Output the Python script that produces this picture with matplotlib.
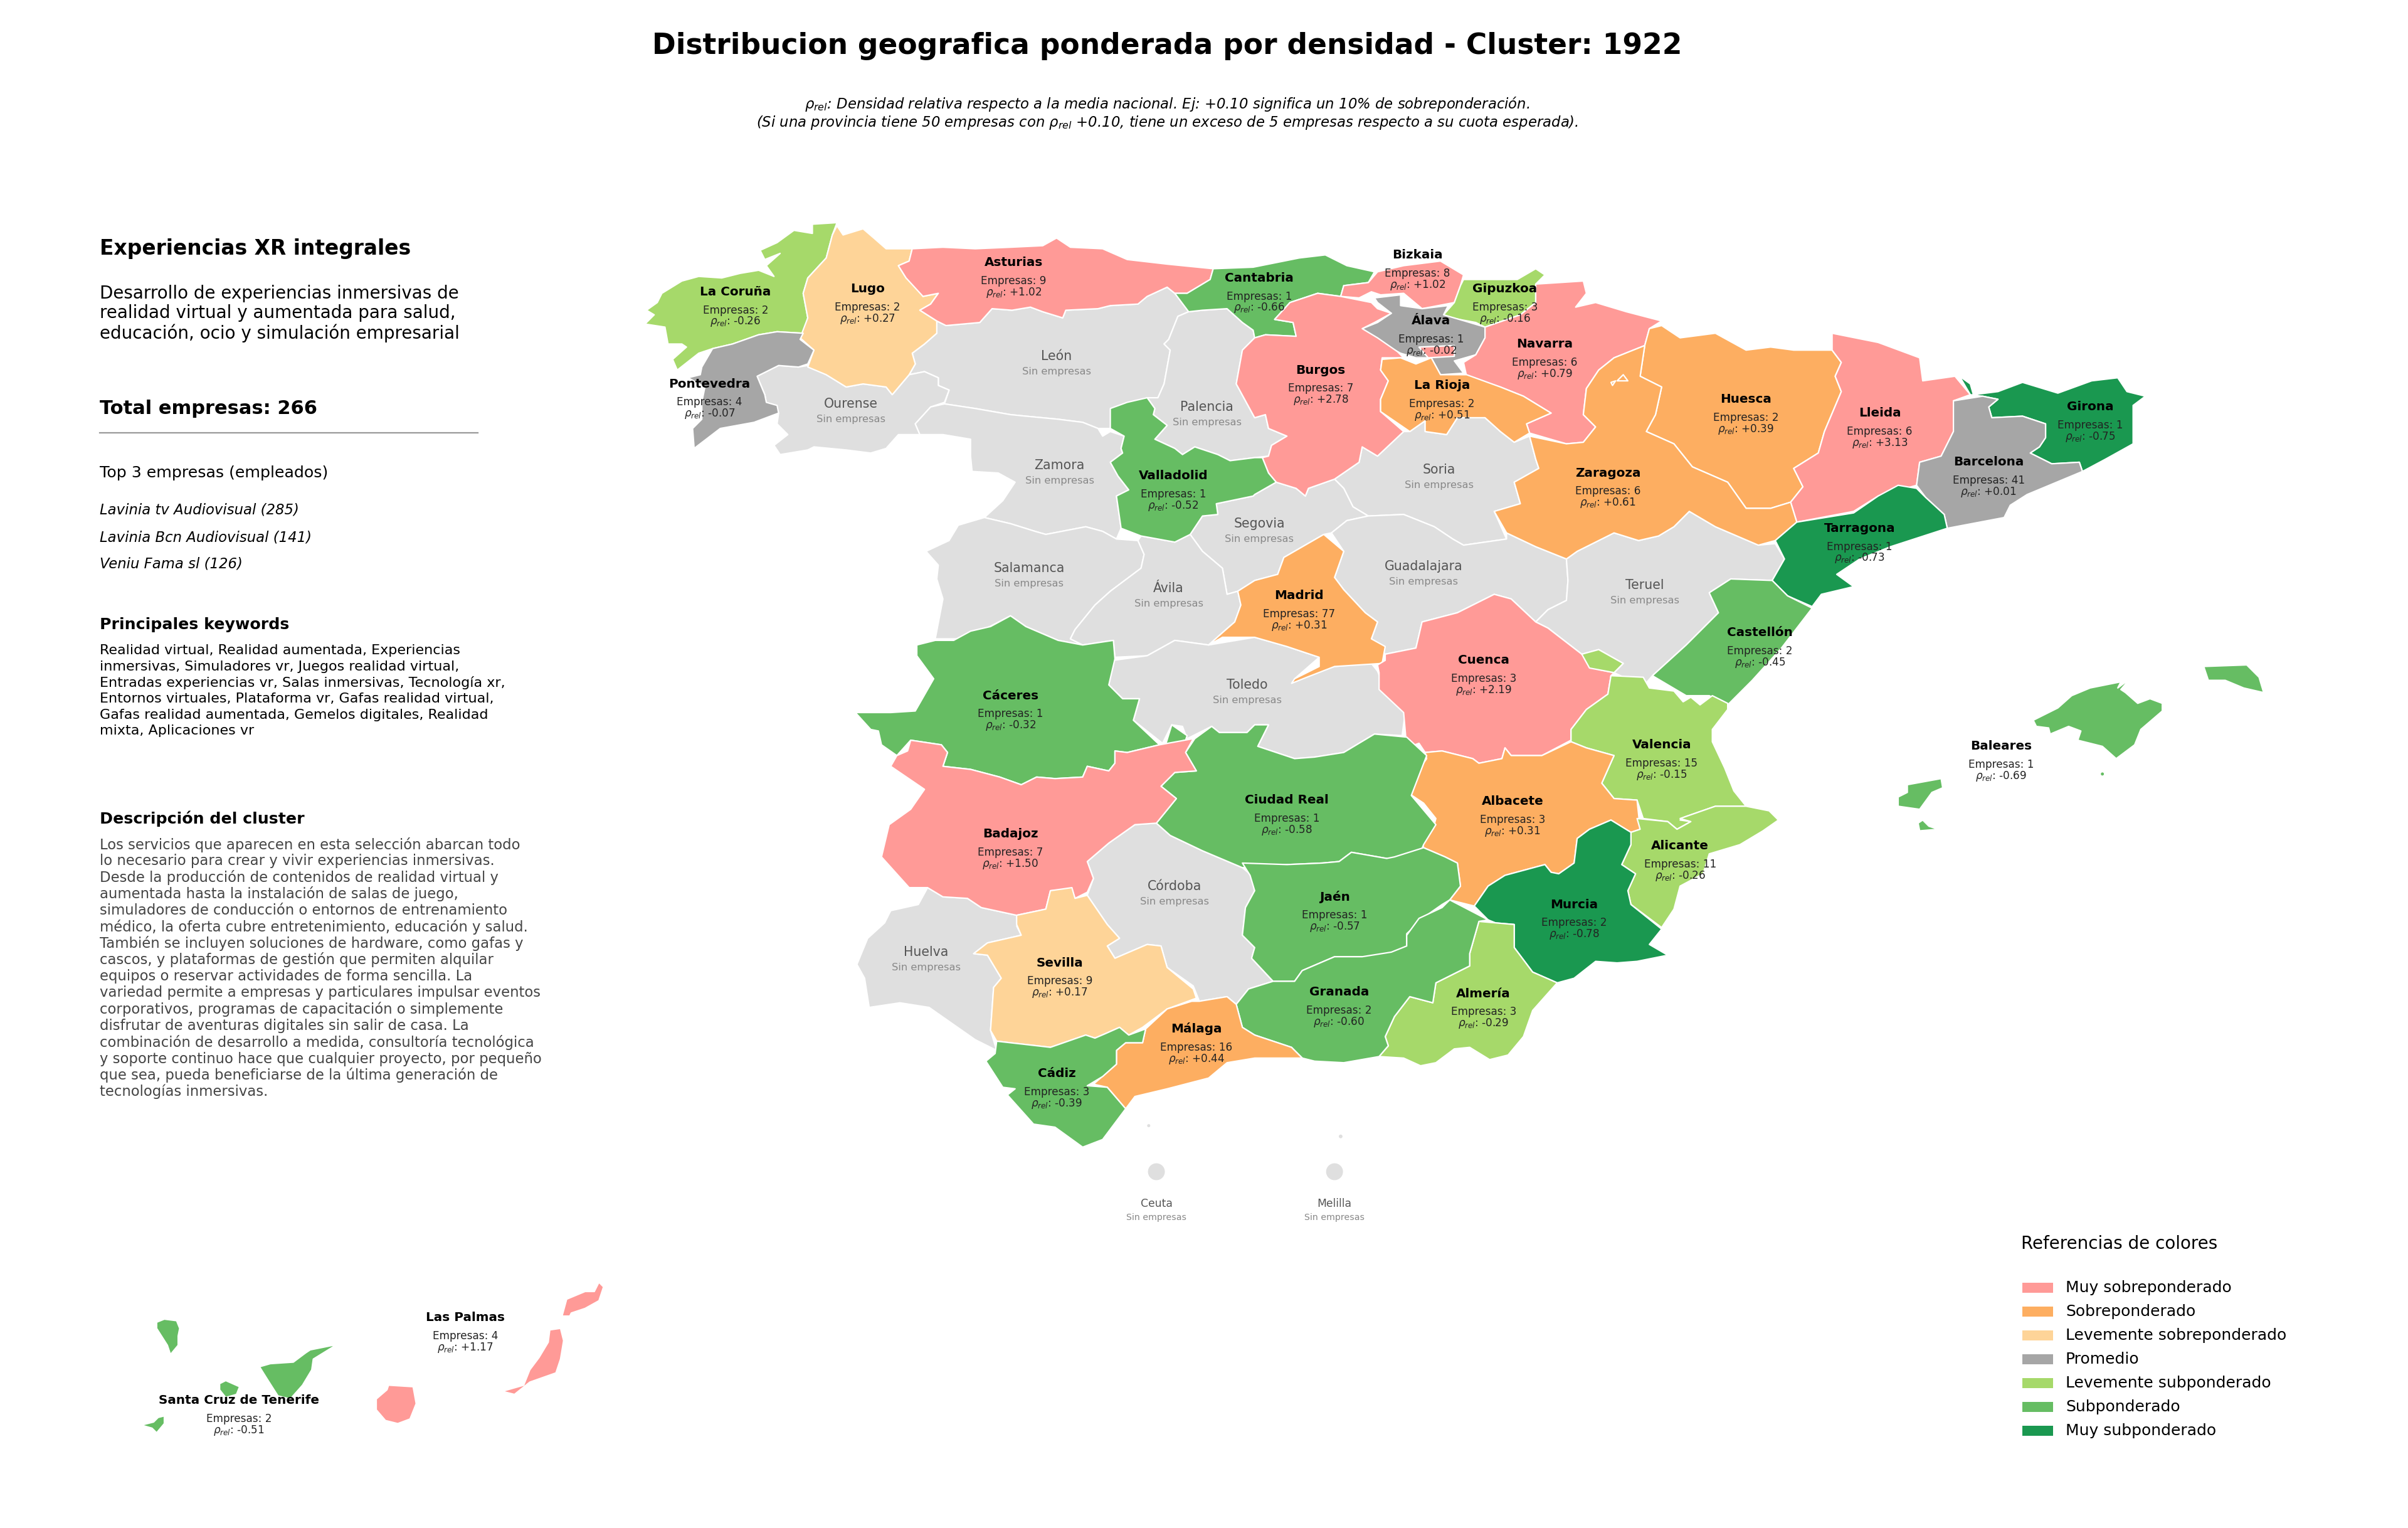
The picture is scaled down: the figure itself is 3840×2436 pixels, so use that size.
import matplotlib
matplotlib.use("Agg")
import matplotlib.pyplot as plt
from matplotlib.patches import Polygon, Rectangle, Circle

# Outlines, x / y in a 1568 x 995 sheet
LA_CORUNA = [(545,145),(529,146),(529,152),(517,150),(506,158),(495,163),(498,169),(508,165),(499,173),(504,180),(494,176),(482,178),(470,181),(455,180),(444,183),(431,191),(428,197),(421,202),(426,205),(420,211),(433,213),(435,224),(444,224),(447,226),(438,234),(441,241),(455,230),(464,227),(477,224),(494,218),(506,216),(523,217),(526,207),(523,191),(526,181),(538,168),(542,153)]
PONTEVEDRA = [(523,217),(506,216),(494,218),(477,224),(464,227),(457,239),(456,244),(448,246),(459,252),(457,262),(457,273),(451,279),(452,292),(469,279),(491,275),(507,269),(506,264),(499,262),(498,257),(493,245),(507,238),(520,239),(526,237),(530,228),(521,221)]
LUGO = [(545,147),(549,153),(562,149),(569,155),(577,162),(594,162),(592,170),(585,173),(590,181),(596,186),(601,193),(611,191),(606,198),(599,202),(610,209),(610,217),(602,224),(594,230),(596,237),(592,244),(581,257),(577,252),(562,250),(551,252),(538,244),(526,239),(530,228),(521,220),(526,207),(523,191),(526,181),(538,168),(542,153)]
ASTURIAS = [(594,162),(614,161),(635,162),(658,161),(679,160),(688,155),(697,161),(718,162),(734,169),(760,172),(790,175),(788,182),(773,191),(765,191),(760,187),(747,193),(741,198),(723,199),(715,201),(694,202),(692,207),(679,203),(671,200),(659,202),(646,201),(638,210),(616,212),(610,209),(599,202),(606,198),(611,191),(601,193),(590,181),(585,173),(592,170)]
OURENSE = [(493,245),(507,238),(520,239),(526,238),(538,244),(551,252),(562,250),(577,252),(581,257),(592,244),(602,242),(611,246),(611,251),(618,254),(615,262),(606,265),(596,276),(599,283),(585,283),(577,292),(567,295),(551,293),(530,291),(526,293),(508,296),(504,290),(513,283),(506,276),(507,269),(499,262),(498,257)]
LEON = [(616,212),(638,210),(646,201),(659,202),(671,200),(679,203),(692,207),(694,202),(715,201),(723,199),(741,198),(747,193),(760,187),(765,191),(774,203),(767,206),(761,221),(758,224),(762,228),(758,250),(754,259),(744,260),(736,262),(724,266),(723,279),(715,279),(705,275),(689,273),(668,271),(658,270),(635,266),(615,263),(618,254),(611,251),(611,246),(602,242),(592,244),(596,237),(594,230),(602,224),(610,217),(610,209)]
ZAMORA = [(606,265),(615,263),(635,266),(658,270),(668,271),(689,273),(705,275),(715,279),(718,284),(723,281),(732,284),(730,292),(731,295),(723,301),(728,310),(735,319),(727,323),(730,344),(727,351),(718,346),(707,343),(681,348),(674,346),(658,341),(641,337),(653,326),(661,314),(650,308),(633,307),(632,297),(632,286),(614,283),(599,283),(596,276)]
SALAMANCA = [(641,337),(658,341),(674,346),(681,348),(707,343),(718,346),(727,351),(741,352),(745,361),(743,370),(723,385),(713,394),(700,410),(697,416),(705,420),(689,417),(668,408),(658,401),(629,416),(609,416),(614,390),(610,377),(611,368),(603,359),(618,352),(624,342)]
VALLADOLID = [(723,266),(734,262),(747,259),(752,266),(751,270),(760,277),(752,286),(765,292),(770,296),(778,291),(793,296),(801,300),(817,298),(822,298),(826,308),(831,314),(824,318),(817,322),(816,323),(792,328),(793,335),(783,336),(775,348),(765,353),(743,349),(730,344),(727,323),(735,319),(728,310),(723,301),(731,295),(730,292),(732,284),(723,279)]
PALENCIA = [(774,203),(783,202),(799,201),(809,210),(816,215),(817,220),(809,228),(805,250),(817,272),(824,270),(826,279),(838,284),(828,290),(826,297),(817,298),(801,300),(793,296),(778,291),(770,296),(765,292),(752,286),(760,277),(751,270),(752,266),(747,259),(754,259),(758,250),(762,228),(758,224),(761,221),(767,206)]
CANTABRIA = [(790,175),(816,174),(846,168),(863,166),(877,173),(895,177),(891,184),(875,186),(873,193),(858,191),(840,197),(830,208),(842,210),(844,219),(824,218),(817,220),(816,215),(809,210),(799,201),(783,202),(774,203),(765,191),(773,191),(788,182)]
BURGOS = [(858,191),(873,193),(893,197),(897,201),(906,204),(895,210),(887,214),(897,220),(910,229),(914,233),(900,233),(899,241),(904,248),(899,260),(899,268),(914,281),(897,297),(887,291),(885,301),(869,312),(852,318),(850,323),(844,318),(831,314),(826,308),(822,298),(826,297),(828,290),(838,284),(826,279),(824,270),(817,272),(805,250),(809,228),(817,220),(824,218),(844,219),(842,210),(830,208),(840,197)]
TREVINO = [(924,226),(947,225),(947,232),(930,233)]
BIZKAIA = [(875,186),(891,184),(897,177),(914,173),(938,170),(953,179),(951,186),(947,197),(926,201),(914,191),(899,192),(893,190),(885,194),(873,193)]
GIPUZKOA = [(947,197),(951,186),(953,182),(988,182),(1000,175),(1006,179),(1000,185),(1000,197),(990,205),(967,213),(961,210),(945,207),(940,205)]
ALAVA = [(895,194),(912,192),(912,199),(926,201),(943,199),(940,205),(957,210),(967,213),(967,220),(961,231),(947,235),(953,243),(938,244),(932,233),(922,233),(912,230),(897,222),(887,214),(897,210),(906,204),(897,197)]
NAVARRA = [(1000,185),(1031,183),(1033,191),(1026,200),(1039,197),(1059,203),(1082,209),(1074,214),(1071,225),(1051,233),(1041,241),(1033,253),(1031,270),(1039,278),(1031,288),(1020,289),(996,282),(994,276),(1010,269),(992,258),(977,252),(955,245),(953,236),(961,231),(967,220),(967,213),(990,205),(1000,197)]
LA_RIOJA = [(900,234),(912,233),(922,237),(932,233),(938,244),(955,244),(977,252),(992,258),(1010,269),(994,276),(996,282),(986,288),(977,281),(967,272),(949,272),(942,283),(928,281),(928,274),(918,281),(899,268),(899,260),(904,248),(899,241)]
SORIA = [(914,281),(918,281),(928,274),(928,281),(942,283),(949,272),(967,272),(977,281),(986,288),(996,284),(1000,299),(1002,305),(986,314),(990,328),(973,333),(981,351),(953,355),(946,351),(934,343),(914,335),(891,336),(881,330),(875,318),(869,312),(885,301),(887,291),(897,297)]
SEGOVIA = [(817,322),(831,314),(844,318),(850,323),(852,318),(869,312),(875,318),(881,330),(891,336),(877,339),(867,347),(862,348),(836,363),(832,374),(817,378),(806,385),(799,387),(796,370),(783,359),(775,348),(783,336),(793,335),(792,328),(816,323)]
AVILA = [(741,352),(743,349),(765,353),(775,348),(783,359),(796,370),(799,387),(806,385),(808,394),(804,405),(796,412),(787,420),(765,417),(747,427),(726,428),(725,417),(705,420),(697,416),(700,410),(713,394),(723,385),(743,370),(745,361)]
MADRID = [(862,348),(875,359),(869,376),(875,384),(889,399),(897,405),(893,416),(902,421),(900,432),(869,434),(851,441),(841,445),(843,442),(859,434),(859,428),(838,421),(817,415),(796,415),(787,420),(796,412),(804,405),(808,394),(806,385),(817,378),(832,374),(836,363)]
GUADALAJARA = [(891,336),(914,335),(934,343),(946,351),(953,355),(981,351),(981,347),(1000,356),(1020,364),(1021,378),(1020,391),(1008,397),(1000,405),(984,390),(973,387),(949,399),(926,405),(922,422),(902,426),(893,416),(897,405),(889,399),(875,384),(869,376),(875,359),(867,347),(877,339)]
ZARAGOZA = [(996,284),(1020,289),(1031,288),(1039,278),(1031,270),(1033,253),(1041,241),(1051,233),(1071,225),(1068,245),(1082,252),(1078,270),(1072,281),(1090,289),(1102,304),(1125,314),(1137,331),(1153,331),(1166,327),(1170,340),(1156,352),(1145,355),(1117,343),(1100,333),(1090,343),(1080,349),(1067,352),(1051,347),(1027,359),(1020,364),(1000,356),(981,347),(973,333),(990,328),(986,314),(1002,305),(1000,299)]
ENCLAVE_ZA1 = [(1053,248),(1057,244),(1060,248)]
ENCLAVE_ZA2 = [(1049,249),(1052,248),(1050,251)]
HUESCA = [(1082,212),(1094,220),(1117,217),(1137,228),(1153,226),(1168,228),(1193,228),(1199,236),(1195,245),(1199,255),(1188,281),(1184,295),(1168,305),(1174,317),(1166,327),(1153,331),(1137,331),(1125,314),(1102,304),(1090,289),(1072,281),(1078,270),(1082,252),(1068,245),(1071,225),(1074,214)]
LLEIDA = [(1193,217),(1223,223),(1250,233),(1252,248),(1273,245),(1283,257),(1272,261),(1272,281),(1264,297),(1250,301),(1248,316),(1223,323),(1207,333),(1170,340),(1166,327),(1174,317),(1168,305),(1184,295),(1188,281),(1199,255),(1195,245),(1199,236),(1193,228)]
GIRONA = [(1276,245),(1283,250),(1285,257),(1301,255),(1317,249),(1340,256),(1362,248),(1379,246),(1385,255),(1397,258),(1389,264),(1389,289),(1371,299),(1356,307),(1354,301),(1336,302),(1322,295),(1328,291),(1332,285),(1332,276),(1317,271),(1297,272),(1295,265),(1301,260),(1291,258),(1283,257)]
BARCELONA = [(1272,261),(1291,258),(1301,260),(1295,265),(1297,272),(1317,271),(1332,276),(1332,285),(1328,291),(1322,295),(1336,302),(1354,301),(1356,307),(1320,322),(1309,329),(1305,337),(1268,344),(1266,335),(1254,324),(1248,316),(1250,301),(1264,297),(1272,281)]
TARRAGONA = [(1170,340),(1207,334),(1223,323),(1236,316),(1248,318),(1254,324),(1266,335),(1268,344),(1231,356),(1211,364),(1196,374),(1207,382),(1186,387),(1180,395),(1164,388),(1154,378),(1162,364),(1156,352)]
TERUEL = [(1020,364),(1027,359),(1051,347),(1067,352),(1080,349),(1090,343),(1100,333),(1117,343),(1145,355),(1156,354),(1162,364),(1154,378),(1127,377),(1113,386),(1119,399),(1098,420),(1076,440),(1070,447),(1051,438),(1057,432),(1041,423),(1030,426),(1008,409),(1000,405),(1008,397),(1020,391),(1021,378)]
ADEMUZ = [(1030,426),(1041,423),(1057,432),(1051,438),(1035,435)]
CASTELLON = [(1127,377),(1154,378),(1164,388),(1180,396),(1160,422),(1141,443),(1125,459),(1113,453),(1098,453),(1076,440),(1098,420),(1119,399),(1113,386)]
VALENCIA = [(1049,440),(1070,441),(1074,448),(1090,450),(1096,457),(1101,454),(1107,459),(1115,453),(1125,458),(1125,462),(1115,475),(1115,483),(1123,500),(1129,515),(1137,525),(1117,525),(1097,532),(1094,534),(1101,535),(1092,540),(1086,535),(1070,533),(1066,521),(1051,520),(1043,510),(1051,492),(1033,487),(1023,483),(1023,475),(1033,462),(1047,452)]
ALICANTE = [(1137,525),(1152,528),(1158,534),(1148,541),(1133,550),(1113,556),(1109,569),(1094,577),(1090,592),(1082,604),(1062,589),(1060,580),(1065,569),(1056,563),(1062,550),(1062,542),(1068,540),(1066,533),(1086,535),(1092,540),(1101,535),(1094,533),(1117,525)]
CUENCA = [(973,387),(984,390),(1000,405),(1008,409),(1030,426),(1041,436),(1051,438),(1049,440),(1047,452),(1033,462),(1023,475),(1023,482),(1004,492),(984,492),(980,487),(978,494),(963,497),(959,494),(939,489),(928,490),(924,484),(916,487),(914,464),(898,449),(898,438),(897,433),(902,430),(902,426),(922,422),(926,405),(949,399)]
ALBACETE = [(928,490),(939,489),(959,494),(963,497),(978,494),(980,487),(984,492),(1004,492),(1023,483),(1033,487),(1051,492),(1043,510),(1051,520),(1066,521),(1068,540),(1062,542),(1049,534),(1035,540),(1027,546),(1025,562),(1015,569),(1010,568),(1006,563),(980,570),(969,577),(960,590),(944,586),(951,577),(949,562),(941,558),(927,552),(925,544),(933,540),(935,533),(927,523),(918,517),(922,504),(929,494)]
MURCIA = [(1049,534),(1062,542),(1062,550),(1056,563),(1065,569),(1060,580),(1062,589),(1082,605),(1074,615),(1086,622),(1066,626),(1053,627),(1039,626),(1025,637),(1014,640),(998,633),(986,617),(986,602),(974,601),(969,599),(960,590),(969,577),(980,570),(1006,563),(1010,568),(1015,569),(1025,562),(1027,546),(1035,540)]
ALMERIA = [(963,600),(986,602),(986,617),(998,633),(1014,640),(998,658),(992,675),(982,687),(970,690),(957,682),(947,683),(935,692),(925,694),(914,689),(898,688),(904,681),(902,675),(908,662),(918,649),(933,653),(935,640),(957,629),(957,621)]
GRANADA = [(944,586),(969,599),(963,600),(957,621),(957,629),(935,640),(933,653),(918,649),(908,662),(902,675),(904,681),(898,688),(875,692),(856,691),(848,689),(841,682),(817,674),(809,669),(805,654),(813,644),(829,639),(843,639),(848,632),(869,623),(887,623),(906,620),(916,616),(916,609),(924,598),(939,591)]
JAEN = [(809,562),(838,563),(861,562),(872,561),(880,555),(903,559),(908,558),(927,552),(941,558),(949,562),(951,577),(944,586),(939,589),(929,596),(916,608),(916,618),(906,623),(887,623),(869,623),(848,632),(843,639),(829,639),(815,624),(817,617),(809,609),(811,591),(817,580),(814,570)]
CIUDAD_REAL = [(778,481),(772,490),(779,502),(765,503),(756,512),(766,520),(753,536),(762,544),(783,554),(809,565),(838,563),(861,562),(872,561),(880,555),(903,559),(908,560),(924,557),(927,550),(935,537),(919,518),(929,492),(916,480),(895,478),(875,490),(856,493),(843,494),(819,486),(826,472),(817,472),(812,477),(794,477),(789,473)]
ENCLAVE_CR = [(763,472),(773,479),(772,482),(759,485)]
TOLEDO = [(725,430),(747,427),(765,417),(787,420),(817,415),(838,421),(859,428),(843,442),(869,434),(893,432),(897,437),(901,447),(915,464),(913,479),(895,478),(875,490),(856,493),(843,494),(819,486),(826,472),(817,472),(812,477),(794,477),(789,473),(773,481),(770,473),(763,472),(757,484),(738,469),(742,455),(731,455),(722,446)]
CACERES = [(557,464),(580,464),(596,463),(608,442),(597,427),(597,420),(609,417),(621,417),(632,411),(645,408),(658,401),(668,408),(689,417),(705,420),(725,417),(726,429),(722,446),(731,455),(742,455),(738,469),(755,485),(734,490),(726,489),(726,497),(722,502),(708,499),(705,506),(687,507),(675,506),(665,511),(651,506),(632,501),(614,499),(617,490),(613,485),(593,482),(584,492),(574,485),(572,476),(567,475)]
BADAJOZ = [(593,482),(613,485),(617,490),(614,499),(632,501),(651,506),(665,511),(675,506),(687,507),(705,506),(708,499),(722,502),(726,497),(726,489),(734,490),(755,485),(777,481),(772,490),(779,502),(765,503),(756,512),(766,520),(753,536),(739,537),(722,549),(708,561),(712,572),(708,581),(700,585),(698,579),(684,580),(681,592),(662,596),(639,591),(630,585),(614,584),(604,578),(592,578),(574,558),(579,537),(593,527),(602,514),(580,499),(584,492),(591,489)]
CORDOBA = [(708,561),(722,549),(739,537),(753,536),(762,544),(783,554),(809,565),(815,570),(817,580),(811,591),(809,609),(817,617),(815,624),(829,639),(813,644),(805,654),(799,649),(781,652),(777,642),(760,630),(756,616),(747,615),(726,624),(721,616),(729,611),(721,602),(708,583),(712,572)]
SEVILLA = [(662,596),(681,592),(684,580),(698,578),(700,585),(708,583),(721,602),(729,611),(721,616),(726,624),(747,615),(756,616),(760,630),(777,644),(779,650),(760,657),(744,669),(735,674),(729,669),(720,673),(713,676),(707,674),(684,682),(649,678),(645,671),(647,643),(652,637),(643,622),(634,621),(643,614),(665,609),(662,602)]
HUELVA = [(604,578),(614,584),(630,585),(639,591),(662,596),(665,601),(662,603),(665,609),(643,614),(634,621),(643,622),(652,637),(647,643),(645,671),(649,684),(635,677),(605,656),(586,653),(566,656),(563,637),(558,628),(565,611),(576,601),(580,593),(598,589)]
CADIZ = [(649,678),(684,682),(707,674),(713,676),(720,673),(729,669),(735,674),(746,670),(744,679),(733,679),(727,684),(727,693),(718,701),(708,707),(721,708),(733,722),(718,742),(705,747),(687,734),(673,732),(656,713),(661,709),(653,708),(642,691),(648,686)]
MALAGA = [(746,670),(760,657),(776,652),(781,652),(799,649),(805,654),(809,669),(817,674),(841,682),(848,689),(817,689),(799,692),(787,702),(760,709),(739,714),(733,722),(721,708),(712,706),(727,693),(727,684),(733,679),(744,679)]
MALLORCA = [(1387,442),(1379,448),(1381,444),(1361,448),(1349,453),(1340,461),(1324,469),(1326,473),(1334,474),(1335,478),(1347,473),(1355,476),(1353,482),(1369,486),(1378,494),(1390,485),(1394,475),(1408,463),(1408,458),(1400,455),(1392,458),(1384,451),(1381,449)]
MENORCA = [(1435,434),(1463,433),(1471,441),(1474,451),(1461,448),(1449,443),(1438,443)]
IBIZA = [(1264,507),(1265,513),(1258,516),(1250,527),(1236,525),(1236,519),(1242,516),(1242,511)]
FORMENTERA = [(1252,534),(1256,538),(1262,540),(1250,541),(1249,536)]
LA_PALMA = [(107,859),(115,860),(117,865),(116,870),(116,876),(111,882),(109,876),(102,865),(102,861)]
TENERIFE = [(217,876),(202,879),(199,881),(191,887),(176,888),(169,890),(174,898),(181,909),(189,911),(197,902),(203,892),(204,885),(217,877)]
GOMERA = [(147,899),(156,903),(154,908),(147,910),(143,905),(143,901)]
EL_HIERRO = [(107,922),(107,927),(102,933),(99,930),(92,928),(100,926),(103,923)]
GRAN_CANARIA = [(253,902),(269,903),(271,914),(267,924),(259,927),(251,925),(245,918),(245,911),(252,905)]
FUERTEVENTURA = [(358,866),(365,865),(367,873),(365,885),(362,894),(345,900),(335,908),(327,906),(341,902),(345,892),(351,884),(357,874)]
LANZAROTE = [(390,835),(393,838),(390,847),(381,852),(372,855),(371,857),(366,857),(369,846),(381,841),(387,841)]

# name, companies, relative density
PROVINCIAS = ["La Coruña","Lugo","Asturias","Cantabria","Bizkaia","Gipuzkoa","Álava","Navarra","Burgos","La Rioja",
              "Huesca","Lleida","Girona","Barcelona","Zaragoza","Valladolid","Pontevedra","Tarragona","Madrid","Castellón",
              "Cuenca","Cáceres","Valencia","Baleares","Albacete","Ciudad Real","Badajoz","Alicante","Jaén","Murcia",
              "Sevilla","Almería","Granada","Málaga","Cádiz","Las Palmas","Santa Cruz de Tenerife"]
EMPRESAS = [2,2,9,1,8,3,1,6,7,2,2,6,1,41,6,1,4,1,77,2,3,1,15,1,3,1,7,11,1,2,9,3,2,16,3,4,2]
RHO = [-0.26,0.27,1.02,-0.66,1.02,-0.16,-0.02,0.79,2.78,0.51,0.39,3.13,-0.75,0.01,0.61,-0.52,-0.07,-0.73,0.31,-0.45,
       2.19,-0.32,-0.15,-0.69,0.31,-0.58,1.50,-0.26,-0.57,-0.78,0.17,-0.29,-0.60,0.44,-0.39,1.17,-0.51]
ETIQUETA_XY = [(479,190),(565,188),(660,171),(820,181),(923,166),(980,188),(932,209),(1006,224),(860,241),(939,251),
               (1137,260),(1224,269),(1361,265),(1295,301),(1047,308),(764,310),(462,250),(1211,344),(846,388),(1146,412),
               (966,430),(658,453),(1082,485),(1303,486),(985,522),(838,521),(658,543),(1094,551),(869,584),(1025,589),
               (690,627),(966,647),(872,646),(779,670),(688,699),(303,858),(155.5,912)]
FORMAS = [[LA_CORUNA],[LUGO],[ASTURIAS],[CANTABRIA],[BIZKAIA],[GIPUZKOA],[ALAVA],[NAVARRA],[BURGOS,TREVINO],[LA_RIOJA],
          [HUESCA],[LLEIDA],[GIRONA],[BARCELONA],[ZARAGOZA,ENCLAVE_ZA1,ENCLAVE_ZA2],[VALLADOLID],[PONTEVEDRA],[TARRAGONA],[MADRID],[CASTELLON],
          [CUENCA],[CACERES],[VALENCIA,ADEMUZ],[MALLORCA,MENORCA,IBIZA,FORMENTERA],[ALBACETE],[CIUDAD_REAL,ENCLAVE_CR],[BADAJOZ],[ALICANTE],[JAEN],[MURCIA],
          [SEVILLA],[ALMERIA],[GRANADA],[MALAGA],[CADIZ],[FUERTEVENTURA,LANZAROTE,GRAN_CANARIA],[TENERIFE,LA_PALMA,GOMERA,EL_HIERRO]]

SIN_DATOS = ["León","Ourense","Palencia","Zamora","Soria","Segovia","Salamanca","Guadalajara","Ávila","Teruel","Toledo","Córdoba","Huelva"]
SIN_DATOS_XY = [(688,232),(554,263),(786,265),(690,303),(937,306),(820,341),(670,370),(927,369),(761,383),(1071,381),(812,446),(765,577),(603,620)]
SIN_DATOS_FORMAS = [LEON,OURENSE,PALENCIA,ZAMORA,SORIA,SEGOVIA,SALAMANCA,GUADALAJARA,AVILA,TERUEL,TOLEDO,CORDOBA,HUELVA]
CIUDADES = ["Ceuta","Melilla"]
CIUDADES_XY = [(753,763),(869,763)]

LEYENDA = ["Muy sobreponderado","Sobreponderado","Levemente sobreponderado","Promedio","Levemente subponderado","Subponderado","Muy subponderado"]
COLORES = ["#ff9a97","#fdae61","#fed498","#a6a6a6","#a6d96a","#66bd63","#1a9850"]
COLOR_GRIS = "#dfdfdf"

TOP3 = ["Lavinia tv Audiovisual (285)","Lavinia Bcn Audiovisual (141)","Veniu Fama sl (126)"]
KEYWORDS = ["Realidad virtual, Realidad aumentada, Experiencias","inmersivas, Simuladores vr, Juegos realidad virtual,",
            "Entradas experiencias vr, Salas inmersivas, Tecnología xr,","Entornos virtuales, Plataforma vr, Gafas realidad virtual,",
            "Gafas realidad aumentada, Gemelos digitales, Realidad","mixta, Aplicaciones vr"]
DESC_CORTA = ["Desarrollo de experiencias inmersivas de","realidad virtual y aumentada para salud,","educación, ocio y simulación empresarial"]
DESCRIPCION = ["Los servicios que aparecen en esta selección abarcan todo","lo necesario para crear y vivir experiencias inmersivas.",
               "Desde la producción de contenidos de realidad virtual y","aumentada hasta la instalación de salas de juego,",
               "simuladores de conducción o entornos de entrenamiento","médico, la oferta cubre entretenimiento, educación y salud.",
               "También se incluyen soluciones de hardware, como gafas y","cascos, y plataformas de gestión que permiten alquilar",
               "equipos o reservar actividades de forma sencilla. La","variedad permite a empresas y particulares impulsar eventos",
               "corporativos, programas de capacitación o simplemente","disfrutar de aventuras digitales sin salir de casa. La",
               "combinación de desarrollo a medida, consultoría tecnológica","y soporte continuo hace que cualquier proyecto, por pequeño",
               "que sea, pueda beneficiarse de la última generación de","tecnologías inmersivas."]


def color_rho(r):
    if r >= 0.7:
        return COLORES[0]
    if r >= 0.3:
        return COLORES[1]
    if r >= 0.1:
        return COLORES[2]
    if r > -0.1:
        return COLORES[3]
    if r > -0.3:
        return COLORES[4]
    if r > -0.7:
        return COLORES[5]
    return COLORES[6]


fig = plt.figure(figsize=(19.2, 12.18), dpi=200)
ax = fig.add_axes([0, 0, 1, 1])
ax.set_xlim(0, 1568)
ax.set_ylim(995, 0)
ax.axis("off")

# provinces with no companies go first
for forma in SIN_DATOS_FORMAS:
    ax.add_patch(Polygon(forma, closed=True, fc=COLOR_GRIS, ec="white", lw=0.8, joinstyle="round"))
for formas, r in zip(FORMAS, RHO):
    for forma in formas:
        ax.add_patch(Polygon(forma, closed=True, fc=color_rho(r), ec="white", lw=0.8, joinstyle="round"))
# small rocks that only show as specks
ax.add_patch(Circle((1369, 504), 1, fc=COLORES[5], ec="none"))
ax.add_patch(Circle((748, 733), 1, fc=COLOR_GRIS, ec="none"))
ax.add_patch(Circle((873, 740), 1.2, fc=COLOR_GRIS, ec="none"))

for nombre, n, r, (x, y) in zip(PROVINCIAS, EMPRESAS, RHO, ETIQUETA_XY):
    ax.text(x, y, nombre, ha="center", va="center", fontsize=7.2, fontweight="bold", color="black")
    ax.text(x, y + 12, f"Empresas: {n}", ha="center", va="center", fontsize=6.1, color="#222222")
    ax.text(x, y + 19.5, r"$\rho_{rel}$: " + f"{r:+.2f}", ha="center", va="center", fontsize=6.1, color="#222222")

for nombre, (x, y) in zip(SIN_DATOS, SIN_DATOS_XY):
    ax.text(x, y, nombre, ha="center", va="center", fontsize=7.4, color="#555555")
    ax.text(x, y + 10, "Sin empresas", ha="center", va="center", fontsize=5.85, color="#888888")

for nombre, (x, y) in zip(CIUDADES, CIUDADES_XY):
    ax.add_patch(Circle((x, y), 5.5, fc=COLOR_GRIS, ec="none"))
    ax.text(x, y + 21, nombre, ha="center", va="center", fontsize=6.2, color="#555555")
    ax.text(x, y + 30, "Sin empresas", ha="center", va="center", fontsize=5.1, color="#888888")

# header
ax.text(760, 30, "Distribucion geografica ponderada por densidad - Cluster: 1922", ha="center", va="center",
        fontsize=16.4, fontweight="bold")
ax.text(760, 68, r"$\rho_{rel}$: Densidad relativa respecto a la media nacional. Ej: +0.10 significa un 10% de sobreponderación.",
        ha="center", va="center", fontsize=8.2, style="italic")
ax.text(760, 80, r"(Si una provincia tiene 50 empresas con $\rho_{rel}$ +0.10, tiene un exceso de 5 empresas respecto a su cuota esperada).",
        ha="center", va="center", fontsize=8.2, style="italic")

# left column
ax.text(65, 162, "Experiencias XR integrales", va="center", fontsize=11.85, fontweight="bold")
for i, linea in enumerate(DESC_CORTA):
    ax.text(65, 191 + i * 13, linea, va="center", fontsize=10)
ax.text(65, 266, "Total empresas: 266", va="center", fontsize=11, fontweight="bold")
ax.plot([65, 311], [282, 282], color="#999999", lw=0.8)
ax.text(65, 308, "Top 3 empresas (empleados)", va="center", fontsize=9.1)
for y, linea in zip([332, 350, 367], TOP3):
    ax.text(65, y, linea, va="center", fontsize=8.2, style="italic")
ax.text(65, 407, "Principales keywords", va="center", fontsize=9.1, fontweight="bold")
for i, linea in enumerate(KEYWORDS):
    ax.text(65, 423.5 + i * 10.5, linea, va="center", fontsize=8)
ax.text(65, 533, "Descripción del cluster", va="center", fontsize=9.1, fontweight="bold")
for i, linea in enumerate(DESCRIPCION):
    ax.text(65, 550 + i * 10.73, linea, va="center", fontsize=8.2, color="#444444")

# colour legend
ax.text(1316, 810, "Referencias de colores", va="center", fontsize=10)
for i, (etq, c) in enumerate(zip(LEYENDA, COLORES)):
    y = 838.5 + i * 15.55
    ax.add_patch(Rectangle((1317, y - 3.2), 20, 6.4, fc=c, ec="none"))
    ax.text(1345, y, etq, va="center", fontsize=9)

fig.savefig("out.png", dpi=200)
